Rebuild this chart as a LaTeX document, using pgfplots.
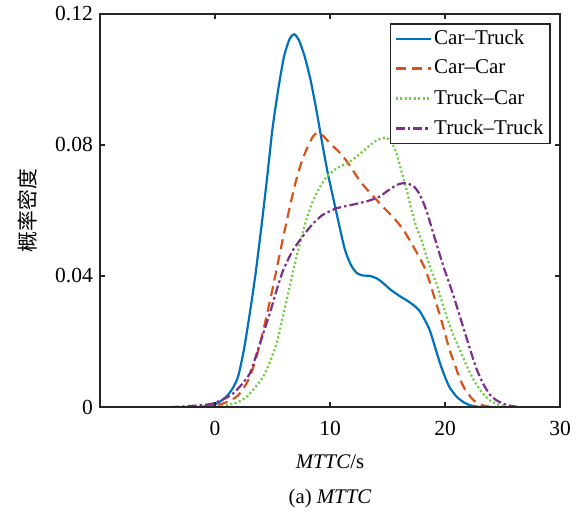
\documentclass[border=0pt]{standalone}
\usepackage{pgfplots}
\pgfplotsset{compat=1.18}
\usepackage{fontspec}
\setmainfont{Liberation Serif}
\newfontfamily\cjk{Noto Sans CJK SC}
\definecolor{mblue}{rgb}{0,0.447,0.741}
\definecolor{morange}{rgb}{0.85,0.325,0.098}
\definecolor{mgreen}{rgb}{0.44,0.80,0.26}
\definecolor{mpurple}{rgb}{0.494,0.184,0.556}
\definecolor{maxis}{rgb}{0.15,0.15,0.15}
\begin{document}
\fontsize{20.8bp}{24bp}\selectfont
\begin{tikzpicture}
\begin{axis}[
  scale only axis,
  width=460bp, height=393bp,
  xmin=-10, xmax=30, ymin=0, ymax=0.12,
  xtick={0,10,20,30}, ytick={0,0.04,0.08,0.12},
  yticklabels={0,0.04,0.08,0.12},
  /pgf/number format/assume math mode=true,
  tick label style={font=\fontsize{21.5bp}{24bp}\selectfont},
  tick align=inside,
  major tick length=5bp,
  axis line style={maxis, line width=1.7bp},
  every tick/.style={maxis, line width=1.3bp},
  xticklabel style={yshift=-7bp},
  axis on top,
  every axis x label/.style={at={(axis description cs:0.5,-0.14)},anchor=center},
  every axis y label/.style={at={(axis description cs:-0.157,0.5)},anchor=center,rotate=90},
  xlabel={\textit{MTTC}/s},
  ylabel={\cjk 概率密度},
  legend cell align=left,
  legend style={at={(rel axis cs:0.98,0.977)}, anchor=north east,
    draw=maxis, line width=1.6bp, fill=white, inner xsep=4bp, inner ysep=4bp,
    row sep=8.5bp, font=\fontsize{21bp}{24bp}\selectfont,
    nodes={inner xsep=2.5bp}},
  legend image code/.code={\draw[#1] (0bp,0bp) -- (35bp,0bp);},
]
\addplot[mblue, line width=2.2bp, smooth, tension=0.4] coordinates {
(-2,0) (-1,0.0001) (0,0.0008) (0.5,0.0018) (1,0.0032) (1.5,0.0055) (2,0.0092)
(2.5,0.0172) (3,0.028) (3.5,0.040) (4,0.054) (4.5,0.069) (5,0.085) (5.5,0.097)
(6,0.107) (6.5,0.1125) (6.9,0.1138) (7.3,0.112) (7.8,0.107) (8.3,0.100) (8.8,0.091)
(9.3,0.081) (9.8,0.0715) (10.3,0.0635) (10.8,0.0555) (11.3,0.048) (11.8,0.0435)
(12.3,0.041) (12.8,0.0402) (13.5,0.0400) (14.1,0.0392) (14.7,0.0376) (15.2,0.036)
(16,0.034) (16.7,0.0325) (17.3,0.031) (17.8,0.0293) (18.3,0.0262) (18.7,0.0232)
(19.2,0.0175) (19.6,0.013) (20,0.0092) (20.4,0.006) (21,0.0032) (21.6,0.0015)
(22.2,0.0005) (23,0)
};
\addlegendentry{Car--Truck}
\addplot[morange, line width=2.2bp, dash pattern=on 10bp off 6bp, smooth, tension=0.4] coordinates {
(-2.5,0) (-1,0.0001) (0,0.0003) (0.5,0.0008) (1,0.0015) (1.5,0.0023) (2,0.0035)
(2.5,0.0058) (3,0.009) (3.5,0.014) (4,0.0205) (4.5,0.028) (5,0.036) (5.5,0.0445)
(6,0.053) (6.5,0.061) (7,0.0685) (7.5,0.0745) (8,0.079) (8.5,0.0825) (8.9,0.0837)
(9.4,0.0828) (10,0.0805) (10.9,0.0775) (11.5,0.0748) (12,0.0722) (12.6,0.069)
(13.2,0.0665) (13.8,0.0642) (14.5,0.0615) (15.2,0.059) (15.8,0.0567) (16.4,0.054)
(17,0.0505) (17.8,0.0455) (18.3,0.042) (18.7,0.0378) (19.2,0.032) (19.6,0.0275)
(20,0.0225) (20.4,0.0174) (20.9,0.0125) (21.3,0.0085) (21.8,0.005) (22.5,0.002)
(23.2,0.0006) (24,0)
};
\addlegendentry{Car--Car}
\addplot[mgreen, line width=2.3bp, dash pattern=on 2bp off 2.5bp, smooth, tension=0.4] coordinates {
(-1,0) (0,0.0001) (1,0.0005) (2,0.0015) (2.75,0.0031) (3.5,0.006) (4.2,0.0093)
(4.8,0.014) (5.36,0.0194) (5.8,0.026) (6.23,0.0327) (6.7,0.040) (7.1,0.046)
(7.68,0.054) (8.1,0.059) (8.55,0.0632) (9.1,0.067) (9.71,0.0703) (10.3,0.0722)
(10.87,0.0734) (11.4,0.0742) (11.74,0.0749) (12.3,0.0764) (12.9,0.0782) (13.5,0.080)
(14.1,0.0815) (14.5,0.082) (14.9,0.0822) (15.3,0.081) (15.7,0.0783) (16.1,0.0734) (16.67,0.0662)
(17.1,0.060) (17.5,0.055) (18.0,0.0505) (18.4,0.0459) (18.8,0.0418) (19.3,0.0372)
(19.7,0.0325) (20.15,0.0276) (20.7,0.0222) (21.3,0.0174) (21.9,0.0125) (22.5,0.0082)
(23.2,0.0045) (23.9,0.002) (24.6,0.0008) (25.4,0)
};
\addlegendentry{Truck--Car}
\addplot[mpurple, line width=2.2bp, dash pattern=on 9bp off 3bp on 2.5bp off 3bp, smooth, tension=0.4] coordinates {
(-3.9,0) (-3,0.0001) (-2.2,0.0003) (-1,0.0006) (-0.15,0.0011) (0.8,0.0025) (1.6,0.0042)
(2.3,0.0068) (3.04,0.0103) (3.6,0.016) (4.2,0.0225) (4.8,0.029) (5.36,0.0357)
(5.9,0.0415) (6.38,0.0452) (6.8,0.048) (7.39,0.051) (8,0.0538) (8.55,0.0561)
(9.3,0.0585) (10,0.0598) (10.58,0.0607) (11.2,0.0612) (12,0.0618) (12.6,0.0623)
(13.2,0.0628) (13.8,0.0635) (14.35,0.0643) (15,0.066) (15.8,0.0678) (16.3,0.0683)
(16.8,0.0682) (17.3,0.0673) (17.7,0.0655) (18.05,0.063) (18.4,0.0598) (18.8,0.0552)
(19.2,0.0505) (19.6,0.0459) (20.0,0.0415) (20.4,0.0375) (20.85,0.0327) (21.3,0.0276)
(21.75,0.0225) (22.2,0.0174) (22.7,0.012) (23.3,0.0072) (23.9,0.0038) (24.5,0.002)
(25.3,0.0007) (26.2,0.0001) (26.8,0)
};
\addlegendentry{Truck--Truck}
\end{axis}
\node[anchor=center] at ([yshift=-91bp]current axis.south) {(a) \textit{MTTC}};
\pgfresetboundingbox
\path ([shift={(-100bp,-106bp)}]current axis.south west) rectangle ([shift={(27bp,14bp)}]current axis.north east);
\end{tikzpicture}
\end{document}
